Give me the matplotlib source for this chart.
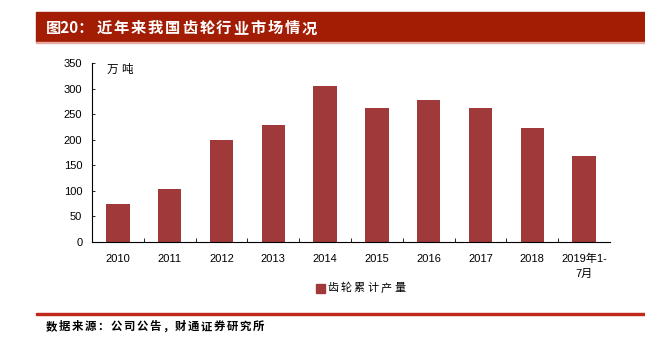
import matplotlib
matplotlib.use("Agg")
import matplotlib.pyplot as plt
from matplotlib.patches import Rectangle

plt.rcParams['font.family'] = ['Liberation Sans', 'Noto Sans CJK SC', 'DejaVu Sans']
CJK = ['Noto Sans CJK SC', 'DejaVu Sans']

categories = ["2010", "2011", "2012", "2013", "2014", "2015", "2016", "2017", "2018", "2019年1-\n7月"]
output = [75, 104, 199, 229, 305, 262, 278, 262, 223, 168]
yticks = [0, 50, 100, 150, 200, 250, 300, 350]

title_prefix = "图20："
title_main = "近年来我国齿轮行业市场情况"
unit = "万吨"
series_name = "齿轮累计产量"
source = "数据来源：公司公告，财通证券研究所"

bar_color = "#A0393A"
header_color = "#A31D05"

W, H = 645, 339
fig = plt.figure(figsize=(W / 100, H / 100), dpi=100)


def fx(px):
    return px / W


def fy(py):
    return 1 - py / H


def spaced(x0, y, s, pitch, size, **kw):
    """Draw a string one glyph at a time with a fixed advance (in pixels)."""
    for i, ch in enumerate(s):
        fig.text(fx(x0 + i * pitch), fy(y), ch, fontsize=size, va="center", ha="left",
                 family=CJK, **kw)


# header band
fig.patches.append(Rectangle((fx(36), fy(42)), 1 - fx(36), 30 / H,
                             transform=fig.transFigure, color=header_color, zorder=0))
fig.patches.append(Rectangle((fx(36), fy(43.2)), 1 - fx(36), 1.2 / H,
                             transform=fig.transFigure, color="#E8A9A0", zorder=0))
fig.text(fx(46), fy(28.3), title_prefix, color="white", fontsize=11, fontweight="bold",
         va="center", ha="left", family=CJK)
spaced(96.5, 28.3, title_main, 17.1, 11, color="white", fontweight="bold")

# footer rule and source
fig.patches.append(Rectangle((fx(36), fy(314.7)), 1 - fx(36), 1.4 / H,
                             transform=fig.transFigure, color="#C0281A", zorder=0))
spaced(46, 326.7, source, 12.9, 8.2, color="black", fontweight="bold")

ax = fig.add_axes([fx(92), fy(242), (610 - 92) / W, (242 - 63) / H])
x = list(range(len(categories)))
ax.bar(x, output, width=0.45, color=bar_color, zorder=2)
ax.set_xlim(-0.5, len(categories) - 0.5)
ax.set_ylim(0, 350)
ax.set_yticks(yticks)
ax.set_xticks(x)
ax.set_xticklabels(categories, fontsize=8, linespacing=1.6)
ax.tick_params(axis='y', labelsize=8, direction='in', length=2, width=0.6, pad=7)
ax.tick_params(axis='x', length=0, pad=8.5)
ax.set_xticks([i + 0.5 for i in x[:-1]], minor=True)
ax.tick_params(axis='x', which='minor', direction='in', length=3, width=0.6)
for s in ['top', 'right']:
    ax.spines[s].set_visible(False)
ax.spines['left'].set_linewidth(0.8)
ax.spines['bottom'].set_linewidth(0.8)

# unit label
spaced(107, 69, unit, 14, 8.3, color="black")

# legend
fig.patches.append(Rectangle((fx(315.5), fy(293)), 9.5 / W, 9.5 / H,
                             transform=fig.transFigure, color=bar_color, zorder=3))
spaced(327, 288.3, series_name, 13.4, 8, color="black")

fig.savefig("out.png", dpi=100)
